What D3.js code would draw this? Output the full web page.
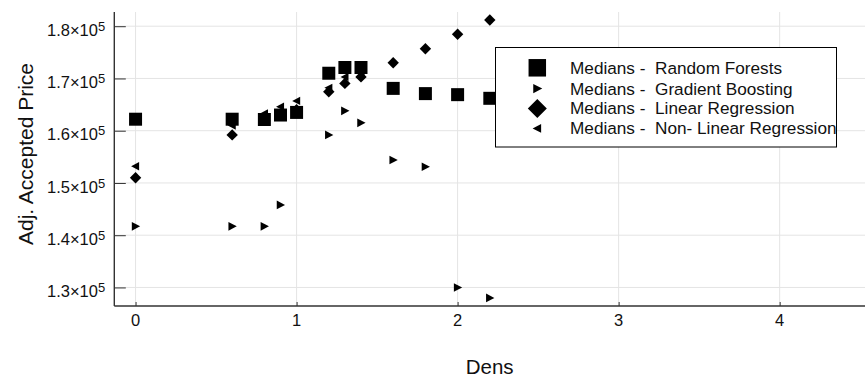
<!DOCTYPE html>
<html>
<head>
<meta charset="utf-8">
<script src="https://cdn.jsdelivr.net/npm/d3@7/dist/d3.min.js"></script>
<style>
  html, body { margin: 0; padding: 0; background: #fff; }
  svg { display: block; font-family: "Liberation Sans", Arial, sans-serif; }
</style>
</head>
<body>
<svg id="chart" width="865" height="376"></svg>
<script>
// Median adjusted accepted price by density, one series per model
const dens = [0, 0.6, 0.8, 0.9, 1.0, 1.2, 1.3, 1.4, 1.6, 1.8, 2.0, 2.2];
const randomForests   = [162200, 162200, 162150, 163000, 163500, 171000, 172100, 172100, 168100, 167100, 166900, 166200];
const gradientBoost   = [141700, 141700, 141700, 145800, null, 159200, 163800, 161500, 154400, 153100, 130000, 128000];
const linearReg       = [151000, 159200, 162000, 163100, 164000, 167450, 169050, 170300, 173000, 175700, 178450, 181200];
const nonLinearReg    = [153200, 161000, 163300, 164600, 165700, 168200, 170300, 171000, null, null, null, null];

const seriesNames = [
  "Medians -  Random Forests",
  "Medians -  Gradient Boosting",
  "Medians -  Linear Regression",
  "Medians -  Non- Linear Regression"
];
const xTicks = [0, 1, 2, 3, 4];
const yTicks = [130000, 140000, 150000, 160000, 170000, 180000];
const xDomain = [-0.132, 4.53];
const yDomain = [126450, 182720];

const svg = d3.select("#chart");
const plot = { left: 114.3, right: 865, top: 12, bottom: 306 };

const x = d3.scaleLinear().domain(xDomain).range([plot.left, plot.right]);
const y = d3.scaleLinear().domain(yDomain).range([plot.bottom, plot.top]);

// marker shapes
const shapes = {
  square: s => `M${-s/2},${-s/2}H${s/2}V${s/2}H${-s/2}Z`,
  diamond: s => `M0,${-s/2}L${s/2},0L0,${s/2}L${-s/2},0Z`,
  right: s => `M${-s*0.45},${-s*0.52}L${s*0.55},0L${-s*0.45},${s*0.52}Z`,
  left: s => `M${s*0.45},${-s*0.52}L${-s*0.55},0L${s*0.45},${s*0.52}Z`
};

const series = [
  { values: randomForests, shape: "square", size: 13, legendSize: 17.5 },
  { values: gradientBoost, shape: "right", size: 8.3, legendSize: 9 },
  { values: linearReg, shape: "diamond", size: 11.4, legendSize: 19 },
  { values: nonLinearReg, shape: "left", size: 8, legendSize: 8.5 }
];

// grid
const grid = svg.append("g").attr("stroke", "#e4e4e4").attr("stroke-width", 1);
grid.selectAll("line.v").data(xTicks).join("line")
  .attr("x1", d => x(d)).attr("x2", d => x(d))
  .attr("y1", plot.top).attr("y2", plot.bottom);
grid.selectAll("line.h").data(yTicks).join("line")
  .attr("x1", plot.left).attr("x2", plot.right)
  .attr("y1", d => y(d)).attr("y2", d => y(d));

// axes: ticks point inward, labels drawn separately
const xAxis = d3.axisBottom(x).tickValues(xTicks).tickSize(-4).tickFormat("");
const yAxis = d3.axisLeft(y).tickValues(yTicks).tickSize(-11.5).tickFormat("");

const gx = svg.append("g").attr("transform", `translate(0,${plot.bottom})`).call(xAxis);
const gy = svg.append("g").attr("transform", `translate(${plot.left},0)`).call(yAxis);
[gx, gy].forEach(g => {
  g.select(".domain").attr("stroke", "#333").attr("stroke-width", 1.4);
  g.selectAll(".tick line").attr("stroke", "#333").attr("stroke-width", 1);
});
gx.select(".domain").attr("d", `M${plot.left},0H${plot.right}`);
gy.select(".domain").attr("d", `M0,${plot.bottom}V${plot.top}`);

// x tick labels
svg.append("g").selectAll("text").data(xTicks).join("text")
  .attr("x", d => x(d)).attr("y", 325.5)
  .attr("text-anchor", "middle").attr("font-size", 16.5).attr("fill", "#111")
  .text(d => d);

// y tick labels in m×10^e form, exponent as a raised tspan
const yLab = svg.append("g").selectAll("text").data(yTicks).join("text")
  .attr("x", 47).attr("y", d => y(d) + 9.6)
  .attr("font-size", 16.5).attr("fill", "#111");
yLab.append("tspan").text(d => (d / 1e5).toFixed(1) + "×10");
yLab.append("tspan")
  .attr("dy", -5)
  .attr("font-size", 13)
  .text("5");

// axis titles
svg.append("text")
  .attr("x", (plot.left + plot.right) / 2).attr("y", 373.5)
  .attr("text-anchor", "middle").attr("font-size", 20.5).attr("fill", "#111")
  .text("Dens");
svg.append("text")
  .attr("transform", `translate(33,154) rotate(-90)`)
  .attr("text-anchor", "middle").attr("font-size", 21).attr("fill", "#111")
  .text("Adj. Accepted Price");

// markers
const marks = svg.append("g");
series.forEach(s => {
  const pts = dens.map((d, i) => ({ d, v: s.values[i] })).filter(p => p.v != null);
  marks.append("g").selectAll("path").data(pts).join("path")
    .attr("transform", p => `translate(${x(p.d)},${y(p.v)})`)
    .attr("d", shapes[s.shape](s.size))
    .attr("fill", "#000");
});

// legend
const legend = svg.append("g");
legend.append("rect")
  .attr("x", 495.5).attr("y", 47.5).attr("width", 341).attr("height", 99.5)
  .attr("fill", "#fff").attr("stroke", "#000").attr("stroke-width", 1);
const rowY = [67.8, 88.6, 108.4, 128.4];
series.forEach((s, i) => {
  legend.append("path")
    .attr("transform", `translate(537.3,${rowY[i]})`)
    .attr("d", shapes[s.shape](s.legendSize))
    .attr("fill", "#000");
  legend.append("text")
    .attr("x", 570).attr("y", rowY[i] + 6)
    .attr("font-size", 17.2).attr("fill", "#111")
    .attr("xml:space", "preserve")
    .style("white-space", "pre")
    .text(seriesNames[i]);
});
</script>
</body>
</html>
